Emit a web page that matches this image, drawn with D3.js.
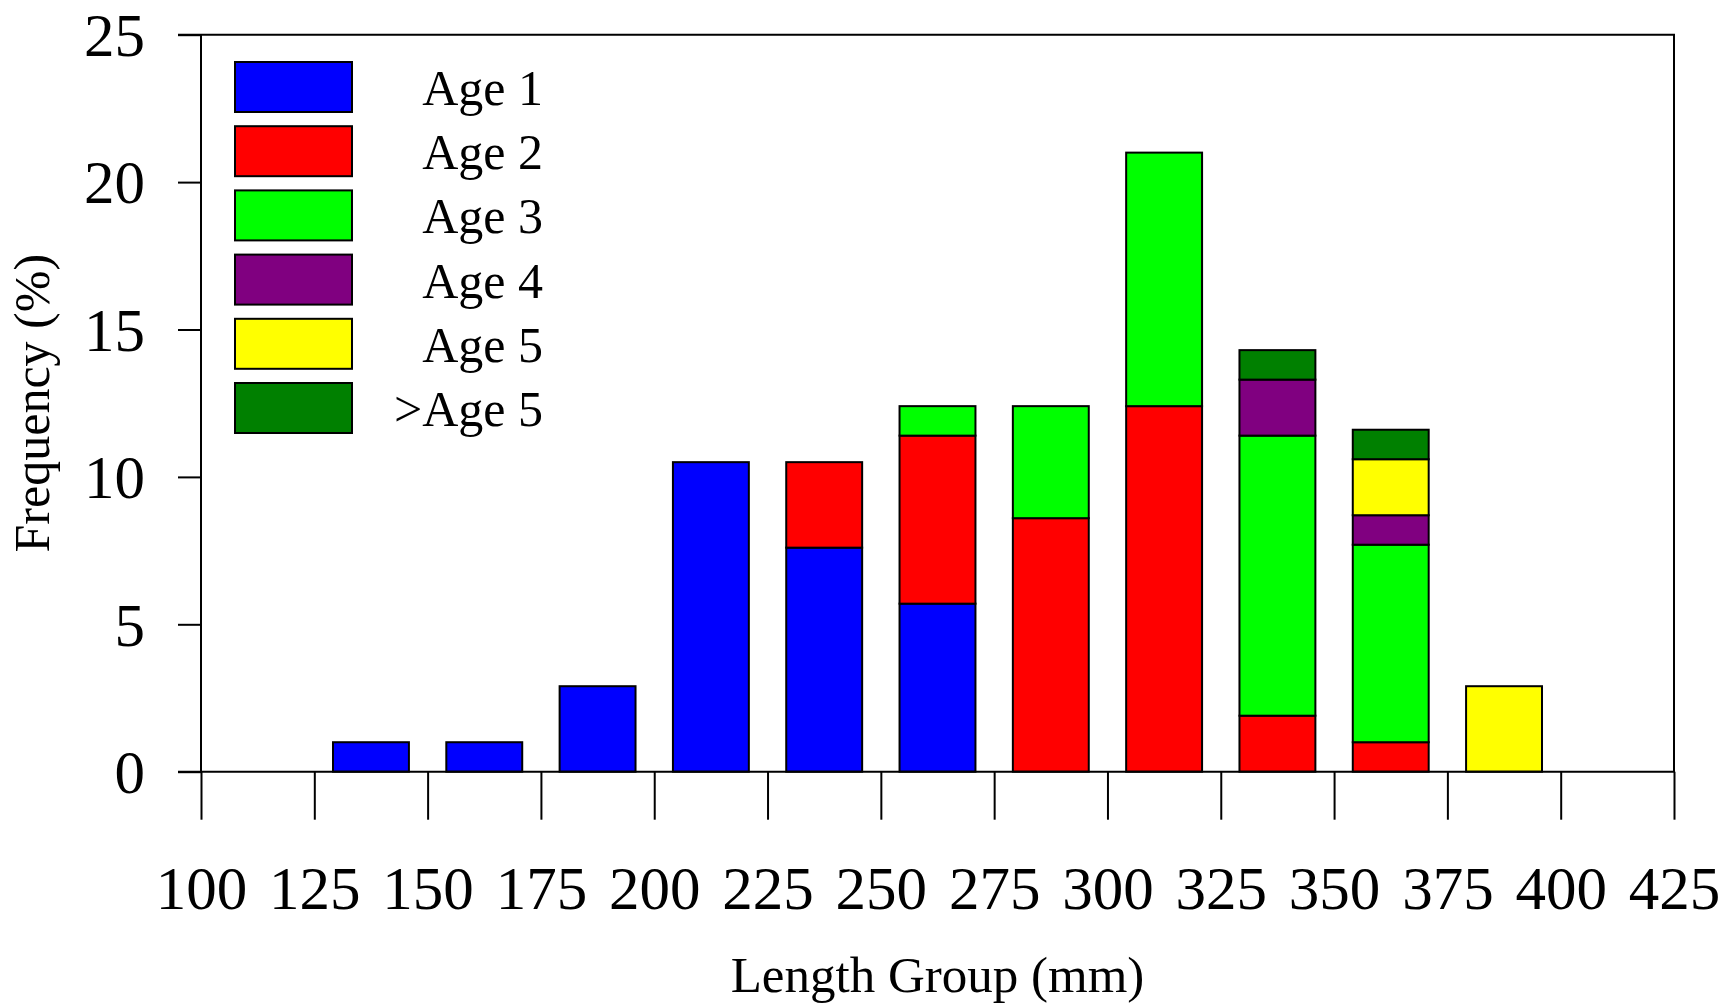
<!DOCTYPE html>
<html>
<head>
<meta charset="utf-8">
<script src="https://cdn.jsdelivr.net/npm/d3@7"></script>
<style>
  html, body { margin: 0; padding: 0; background: #fff; }
  svg { display: block; }
  text { font-family: "Liberation Serif", "Times New Roman", serif; fill: #000; }
</style>
</head>
<body>
<svg id="chart" width="1724" height="1005"></svg>
<script>
// ---- data ----
const binStarts = [100, 125, 150, 175, 200, 225, 250, 275, 300, 325, 350, 375, 400];
const xTicks = [100, 125, 150, 175, 200, 225, 250, 275, 300, 325, 350, 375, 400, 425];
const yTicks = [0, 5, 10, 15, 20, 25];
const seriesNames = ["Age 1", "Age 2", "Age 3", "Age 4", "Age 5", ">Age 5"];
const seriesColors = ["#0000FF", "#FF0000", "#00FF00", "#800080", "#FFFF00", "#008000"];
const age1   = [0, 1.0, 1.0, 2.9, 10.5, 7.6, 5.7, 0, 0, 0, 0, 0, 0];
const age2   = [0, 0, 0, 0, 0, 2.9, 5.7, 8.6, 12.4, 1.9, 1.0, 0, 0];
const age3   = [0, 0, 0, 0, 0, 0, 1.0, 3.8, 8.6, 9.5, 6.7, 0, 0];
const age4   = [0, 0, 0, 0, 0, 0, 0, 0, 0, 1.9, 1.0, 0, 0];
const age5   = [0, 0, 0, 0, 0, 0, 0, 0, 0, 0, 1.9, 2.9, 0];
const ageGt5 = [0, 0, 0, 0, 0, 0, 0, 0, 0, 1.0, 1.0, 0, 0];
const seriesValues = [age1, age2, age3, age4, age5, ageGt5];

// ---- layout ----
const svg = d3.select("#chart");
const pLeft = 201, pRight = 1674, pTop = 34.7, pBottom = 771.7;
const binWidth = 25;

const x = d3.scaleLinear().domain([100, 425]).range([pLeft, pRight]);
const y = d3.scaleLinear().domain([0, 25]).range([pBottom, pTop]);

// table for stacking
const table = binStarts.map((b, i) => {
  const row = { bin: b };
  seriesNames.forEach((n, k) => row[n] = seriesValues[k][i]);
  return row;
});
const stacked = d3.stack().keys(seriesNames)(table);

const barW = (x(125) - x(100)) * 0.67;

const gBars = svg.append("g");
stacked.forEach((layer, k) => {
  gBars.selectAll(null)
    .data(layer.filter(d => d[1] - d[0] > 0))
    .enter().append("rect")
    .attr("x", d => x(d.data.bin + binWidth / 2) - barW / 2)
    .attr("width", barW)
    .attr("y", d => y(d[1]))
    .attr("height", d => y(d[0]) - y(d[1]))
    .attr("fill", seriesColors[k])
    .attr("stroke", "#000")
    .attr("stroke-width", 2);
});

// axes
const yAxis = d3.axisLeft(y).tickValues(yTicks).tickSize(23).tickPadding(33).tickFormat(d3.format("d"));
const gy = svg.append("g").attr("transform", `translate(${pLeft},0)`).call(yAxis);
gy.select(".domain").remove();
gy.selectAll(".tick line").attr("stroke", "#000").attr("stroke-width", 2);
gy.selectAll(".tick text").style("font-size", "61px").style("font-family", "'Liberation Serif', 'Times New Roman', serif").attr("dy", "0.34em");

const xAxis = d3.axisBottom(x).tickValues(xTicks).tickSize(48).tickPadding(46).tickFormat(d3.format("d"));
const gx = svg.append("g").attr("transform", `translate(0,${pBottom})`).call(xAxis);
gx.select(".domain").remove();
gx.selectAll(".tick line").attr("stroke", "#000").attr("stroke-width", 2);
gx.selectAll(".tick text").style("font-size", "61px").style("font-family", "'Liberation Serif', 'Times New Roman', serif");

// frame
svg.append("path")
  .attr("d", `M${pLeft - 23},${pTop} H${pRight} V${pBottom} H${pLeft - 23} M${pLeft},${pTop} V${pBottom}`)
  .attr("fill", "none").attr("stroke", "#000").attr("stroke-width", 2);

// axis titles
svg.append("text")
  .attr("transform", `translate(49,${(pTop + pBottom) / 2}) rotate(-90)`)
  .attr("text-anchor", "middle")
  .style("font-size", "50px")
  .text("Frequency (%)");

svg.append("text")
  .attr("x", (pLeft + pRight) / 2)
  .attr("y", 992)
  .attr("text-anchor", "middle")
  .style("font-size", "51px")
  .text("Length Group (mm)");

// legend
const legend = svg.append("g");
seriesNames.forEach((n, k) => {
  const yy = 62 + k * 64.2;
  legend.append("rect")
    .attr("x", 235).attr("y", yy).attr("width", 117).attr("height", 50)
    .attr("fill", seriesColors[k]).attr("stroke", "#000").attr("stroke-width", 2);
  legend.append("text")
    .attr("x", 543).attr("y", yy + 43)
    .attr("text-anchor", "end")
    .style("font-size", "50px")
    .text(n);
});
</script>
</body>
</html>
